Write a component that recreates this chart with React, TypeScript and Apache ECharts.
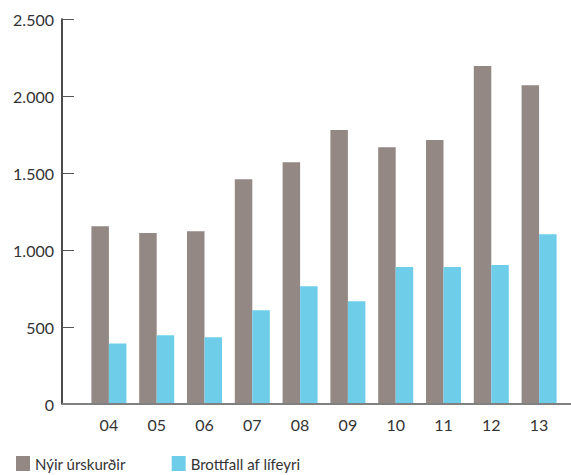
import React, { useEffect, useRef } from "react";
import * as echarts from "echarts";

const categories = ["04", "05", "06", "07", "08", "09", "10", "11", "12", "13"];
const nyirUrskurdir = [1155, 1110, 1122, 1460, 1570, 1780, 1668, 1715, 2195, 2070];
const brottfall = [393, 447, 434, 609, 765, 668, 889, 889, 902, 1103];
const seriesNames = ["Nýir úrskurðir", "Brottfall af lífeyri"];
const colors = ["#938883", "#6ECEEA"];

export default function App() {
  const ref = useRef<HTMLDivElement>(null);
  useEffect(() => {
    document.body.style.margin = "0";
    const chart = echarts.init(ref.current!, null, { renderer: "svg" });
    const font = "Lato, 'Open Sans', sans-serif";
    chart.setOption({
      animation: false,
      textStyle: { fontFamily: font },
      grid: { left: 85, right: 8, top: 19, bottom: 71 },
      legend: {
        left: 11,
        top: 451,
        itemWidth: 14,
        itemHeight: 15,
        itemGap: 46,
        icon: "rect",
        textStyle: { fontSize: 15, color: "#333", fontFamily: font },
        data: seriesNames,
      },
      xAxis: {
        type: "category",
        data: categories,
        axisLine: { show: false },
        axisTick: { show: false },
        axisLabel: { fontSize: 16, color: "#333", margin: 12, fontFamily: font },
      },
      yAxis: {
        type: "value",
        min: 0,
        max: 2500,
        interval: 500,
        offset: 23,
        splitLine: { show: false },
        axisLine: { show: true, lineStyle: { color: "#111", width: 1.5 } },
        axisTick: { show: true, inside: true, length: 12, lineStyle: { color: "#555", width: 1 } },
        axisLabel: {
          fontSize: 16,
          color: "#333",
          margin: 8,
          fontFamily: font,
          formatter: (v: number) => v.toString().replace(/\B(?=(\d{3})+(?!\d))/g, "."),
        },
      },
      graphic: [
        {
          type: "line",
          shape: { x1: 62, y1: 404, x2: 571, y2: 404 },
          style: { stroke: "#808080", lineWidth: 2 },
          z: 10,
        },
      ],
      series: [
        {
          name: seriesNames[0],
          type: "bar",
          data: nyirUrskurdir,
          barWidth: 17.5,
          barGap: "0%",
          itemStyle: { color: colors[0] },
        },
        {
          name: seriesNames[1],
          type: "bar",
          data: brottfall,
          barWidth: 17.5,
          barGap: "0%",
          itemStyle: { color: colors[1] },
        },
      ],
    });
    return () => chart.dispose();
  }, []);
  return <div ref={ref} style={{ width: 571, height: 475 }} />;
}
